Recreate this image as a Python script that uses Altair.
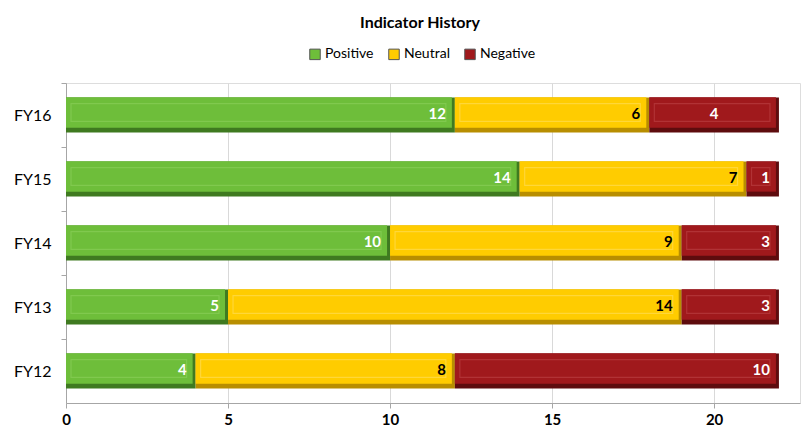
import altair as alt
import pandas as pd

# Indicator counts per fiscal year
years = ["FY16", "FY15", "FY14", "FY13", "FY12"]
positive = [12, 14, 10, 5, 4]
neutral = [6, 7, 9, 14, 8]
negative = [4, 1, 3, 3, 10]

series = ["Positive", "Neutral", "Negative"]
face_colors = ["#6EBE3A", "#FFCC00", "#A0191C"]
edge_colors = ["#3F7A20", "#B88E00", "#5E0C0E"]
line_colors = ["#8FD35F", "#FFE066", "#C0474A"]
label_colors = ["#FFFFFF", "#000000", "#FFFFFF"]

# labels placed in the middle of their segment instead of at its end
centered_labels = {("FY16", "Negative")}

rows = []
for i, y in enumerate(years):
    start = 0
    for s, vals in zip(series, [positive, neutral, negative]):
        v = vals[i]
        end = start + v
        mid = (start + end) / 2
        centered = (y, s) in centered_labels
        rows.append({
            "year": y, "series": s, "value": v,
            "start": start, "end": end,
            "label_x": mid if centered else end,
            "centered": centered,
        })
        start = end
df = pd.DataFrame(rows)

FONT = "Lato"

x_scale = alt.Scale(domain=[0, 22.65], nice=False, zero=True)
y_scale = alt.Scale(domain=years, paddingInner=0.45, paddingOuter=0.225)
color_scale = alt.Scale(domain=series, range=face_colors)

x_enc = alt.X("start:Q", scale=x_scale,
              axis=alt.Axis(values=[0, 5, 10, 15, 20], title=None, grid=True,
                            gridColor="#D9D9D9", domainColor="#A6A6A6",
                            tickColor="#A6A6A6", tickSize=5, labelFontSize=15,
                            labelFontWeight="bold", labelColor="#000000",
                            labelPadding=4, labelFont=FONT, labelFlush=False))
# ticks sit halfway between the bars (one step = 64px); labels stay centred
y_enc = alt.Y("year:N", scale=y_scale, sort=years,
              axis=alt.Axis(title=None, tickOffset=-32, labelOffset=32,
                            domainColor="#A6A6A6",
                            tickColor="#A6A6A6", tickSize=5, labelFontSize=16,
                            labelColor="#000000", labelPadding=10, labelFont=FONT,
                            labelFontWeight="normal"))

base = alt.Chart(df)

# dark edge underneath each segment
edge = base.mark_bar(cornerRadius=0).encode(
    x=x_enc, x2="end:Q", y=y_enc,
    color=alt.Color("series:N", scale=alt.Scale(domain=series, range=edge_colors), legend=None),
)

# main face of each segment
face = base.mark_bar(x2Offset=-3, height={"band": 0.86}, yOffset=-2.5).encode(
    x=alt.X("start:Q", scale=x_scale), x2="end:Q", y=alt.Y("year:N", scale=y_scale, sort=years),
    color=alt.Color("series:N", scale=color_scale, sort=series,
                    legend=alt.Legend(title=None, orient="none", direction="horizontal",
                                      legendX=242, legendY=-36, symbolType="square",
                                      symbolSize=110, symbolStrokeWidth=1,
                                      symbolStrokeColor="#555555",
                                      labelFontSize=14, labelFont=FONT,
                                      labelColor="#000000", columnPadding=12,
                                      labelOffset=3)),
)

# inner bevel outline
bevel = base.mark_bar(filled=False, xOffset=5, x2Offset=-9, height={"band": 0.5},
                      yOffset=-2.5, strokeWidth=1.2, opacity=0.55).encode(
    x=alt.X("start:Q", scale=x_scale), x2="end:Q", y=alt.Y("year:N", scale=y_scale, sort=years),
    stroke=alt.Stroke("series:N", scale=alt.Scale(domain=series, range=line_colors), legend=None),
)

text_color = alt.Color("series:N", scale=alt.Scale(domain=series, range=label_colors), legend=None)

labels_end = base.transform_filter("!datum.centered").mark_text(
    align="right", baseline="middle", dx=-9, dy=-1, fontSize=15, fontWeight="bold", font=FONT
).encode(
    x=alt.X("label_x:Q", scale=x_scale), y=alt.Y("year:N", scale=y_scale, sort=years),
    text="value:Q", color=text_color,
)

labels_mid = base.transform_filter("datum.centered").mark_text(
    align="center", baseline="middle", dy=-1, fontSize=15, fontWeight="bold", font=FONT
).encode(
    x=alt.X("label_x:Q", scale=x_scale), y=alt.Y("year:N", scale=y_scale, sort=years),
    text="value:Q", color=text_color,
)

chart = alt.layer(edge, face, bevel, labels_end, labels_mid).resolve_scale(
    color="independent", stroke="independent"
).properties(
    width=734, height=320,
    padding={"left": 66, "top": 83, "right": 1, "bottom": 32},
    autosize=alt.AutoSizeParams(type="none"),
    title=alt.TitleParams("Indicator History", fontSize=16, fontWeight="bold", font=FONT,
                          color="#000000", anchor="middle", offset=16, dx=-13),
).configure_view(stroke=None).configure(background="#FFFFFF")

chart.save("out.html", embed_options={"renderer": "svg", "actions": False})
